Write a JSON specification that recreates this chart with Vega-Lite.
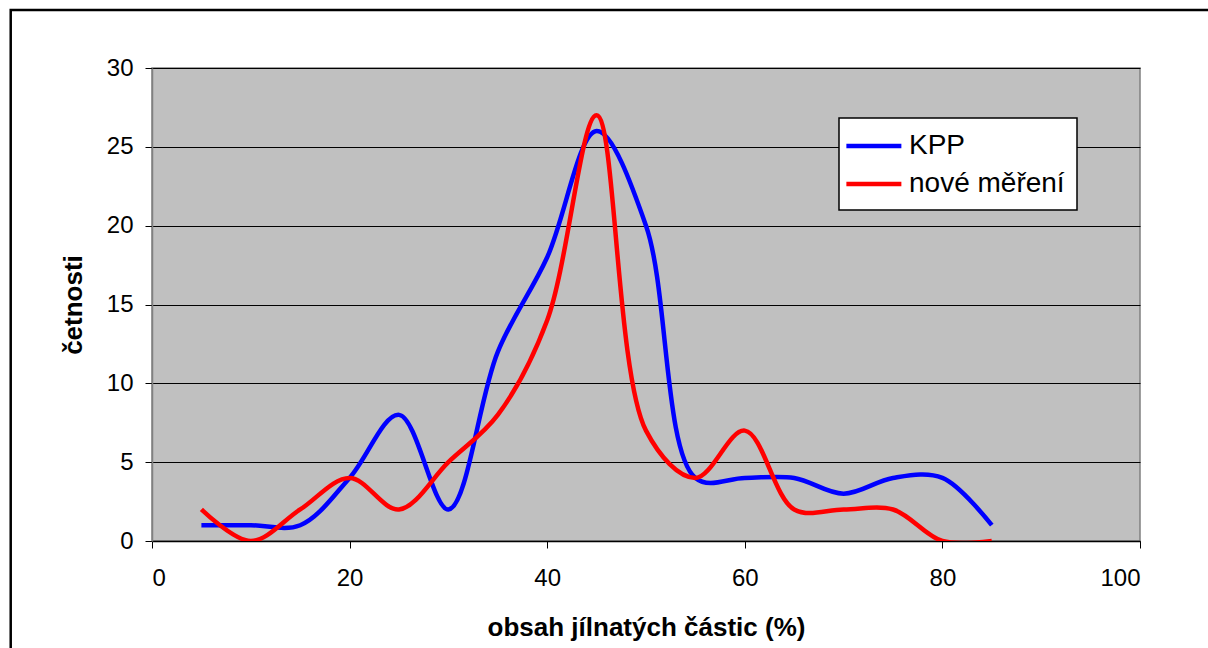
{
  "$schema": "https://vega.github.io/schema/vega-lite/v6.json",
  "width": 988,
  "height": 473,
  "autosize": "none",
  "padding": {"left": 152, "top": 68, "right": 68, "bottom": 107},
  "background": "white",
  "config": {
    "font": "Liberation Sans",
    "view": {"fill": "#C0C0C0", "stroke": "#808080", "strokeWidth": 1.5},
    "axis": {
      "labelFont": "Liberation Sans",
      "labelColor": "black",
      "titleFont": "Liberation Sans",
      "titleColor": "black",
      "titleFontWeight": "bold",
      "tickColor": "black",
      "tickSize": 7,
      "gridColor": "black",
      "gridWidth": 1,
      "gridOpacity": 1
    },
    "legend": {
      "orient": "none",
      "legendX": 687,
      "legendY": 50,
      "fillColor": "white",
      "strokeColor": "black",
      "strokeWidth": 1.5,
      "padding": 12,
      "symbolType": "M-1.5,0H2.5",
      "symbolSize": 756.25,
      "symbolStrokeWidth": 4.5,
      "labelFont": "Liberation Sans",
      "labelFontSize": 28,
      "labelColor": "black",
      "labelOffset": 26,
      "rowPadding": 8
    }
  },
  "datasets": {
    "series": [
      {"x": 5, "series": "KPP", "value": 1},
      {"x": 10, "series": "KPP", "value": 1},
      {"x": 15, "series": "KPP", "value": 1},
      {"x": 20, "series": "KPP", "value": 4},
      {"x": 25, "series": "KPP", "value": 8},
      {"x": 30, "series": "KPP", "value": 2},
      {"x": 35, "series": "KPP", "value": 12},
      {"x": 40, "series": "KPP", "value": 18},
      {"x": 45, "series": "KPP", "value": 26},
      {"x": 50, "series": "KPP", "value": 20},
      {"x": 55, "series": "KPP", "value": 4},
      {"x": 60, "series": "KPP", "value": 4},
      {"x": 65, "series": "KPP", "value": 4},
      {"x": 70, "series": "KPP", "value": 3},
      {"x": 75, "series": "KPP", "value": 4},
      {"x": 80, "series": "KPP", "value": 4},
      {"x": 85, "series": "KPP", "value": 1},
      {"x": 5, "series": "nové měření", "value": 2},
      {"x": 10, "series": "nové měření", "value": 0},
      {"x": 15, "series": "nové měření", "value": 2},
      {"x": 20, "series": "nové měření", "value": 4},
      {"x": 25, "series": "nové měření", "value": 2},
      {"x": 30, "series": "nové měření", "value": 5},
      {"x": 35, "series": "nové měření", "value": 8},
      {"x": 40, "series": "nové měření", "value": 14},
      {"x": 45, "series": "nové měření", "value": 27},
      {"x": 50, "series": "nové měření", "value": 7},
      {"x": 55, "series": "nové měření", "value": 4},
      {"x": 60, "series": "nové měření", "value": 7},
      {"x": 65, "series": "nové měření", "value": 2},
      {"x": 70, "series": "nové měření", "value": 2},
      {"x": 75, "series": "nové měření", "value": 2},
      {"x": 80, "series": "nové měření", "value": 0},
      {"x": 85, "series": "nové měření", "value": 0}
    ]
  },
  "layer": [
    {
      "data": {"values": [{"x0": -14.3, "x1": 130, "y0": 33.68, "y1": -12}]},
      "mark": {"type": "rect", "fill": null, "stroke": "black", "strokeWidth": 2.5, "clip": false},
      "encoding": {
        "x": {"field": "x0", "type": "quantitative", "scale": {"domain": [0, 100]}},
        "x2": {"field": "x1"},
        "y": {"field": "y0", "type": "quantitative", "scale": {"domain": [0, 30]}},
        "y2": {"field": "y1"}
      }
    },
    {
      "data": {"name": "series"},
      "mark": {"type": "line", "interpolate": "catmull-rom", "strokeWidth": 4.5, "clip": true},
      "encoding": {
        "x": {
          "field": "x",
          "type": "quantitative",
          "scale": {"domain": [0, 100], "nice": false},
          "axis": {
            "values": [0, 20, 40, 60, 80, 100],
            "grid": false,
            "title": "obsah jílnatých částic (%)",
            "titleFontSize": 26,
            "titlePadding": 24,
            "labelFontSize": 24,
            "labelPadding": 18,
            "domainColor": "black",
            "domainWidth": 1.5
          }
        },
        "y": {
          "field": "value",
          "type": "quantitative",
          "scale": {"domain": [0, 30], "nice": false},
          "axis": {
            "values": [0, 5, 10, 15, 20, 25, 30],
            "grid": true,
            "title": "četnosti",
            "titleFontSize": 26,
            "titlePadding": 20,
            "labelFontSize": 24,
            "labelPadding": 12,
            "domainColor": "#808080",
            "domainWidth": 1.5
          }
        },
        "color": {
          "field": "series",
          "type": "nominal",
          "scale": {"domain": ["KPP", "nové měření"], "range": ["#0000FF", "#FF0000"]},
          "legend": {"title": null}
        }
      }
    }
  ]
}
